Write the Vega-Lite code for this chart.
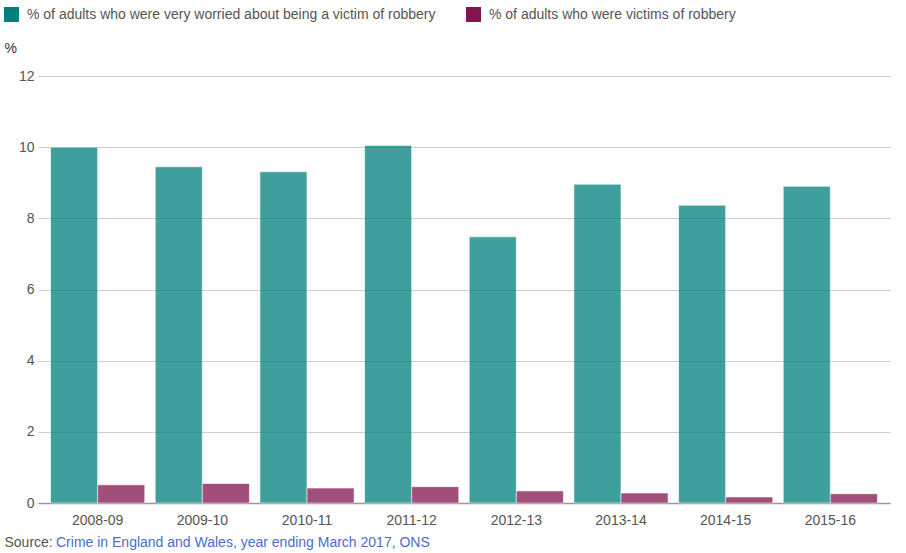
{
  "$schema": "https://vega.github.io/schema/vega-lite/v6.json",
  "width": 852,
  "height": 427,
  "autosize": "none",
  "padding": {"left": 38, "top": 76, "right": 16, "bottom": 50},
  "background": "white",
  "config": {
    "view": {"stroke": null},
    "font": "Liberation Sans"
  },
  "title": {
    "text": "Crime in England and Wales, year ending March 2017, ONS",
    "orient": "bottom",
    "anchor": "start",
    "frame": "group",
    "dx": 18,
    "dy": -16,
    "offset": 3,
    "font": "Liberation Sans",
    "fontSize": 14,
    "fontWeight": "normal",
    "color": "#4c6ccf"
  },
  "data": {
    "values": [
      {"year": "2008-09", "series": "% of adults who were very worried about being a victim of robbery", "value": 10.0},
      {"year": "2009-10", "series": "% of adults who were very worried about being a victim of robbery", "value": 9.45},
      {"year": "2010-11", "series": "% of adults who were very worried about being a victim of robbery", "value": 9.31},
      {"year": "2011-12", "series": "% of adults who were very worried about being a victim of robbery", "value": 10.05},
      {"year": "2012-13", "series": "% of adults who were very worried about being a victim of robbery", "value": 7.48},
      {"year": "2013-14", "series": "% of adults who were very worried about being a victim of robbery", "value": 8.96},
      {"year": "2014-15", "series": "% of adults who were very worried about being a victim of robbery", "value": 8.37},
      {"year": "2015-16", "series": "% of adults who were very worried about being a victim of robbery", "value": 8.9},
      {"year": "2008-09", "series": "% of adults who were victims of robbery", "value": 0.51},
      {"year": "2009-10", "series": "% of adults who were victims of robbery", "value": 0.55},
      {"year": "2010-11", "series": "% of adults who were victims of robbery", "value": 0.42},
      {"year": "2011-12", "series": "% of adults who were victims of robbery", "value": 0.46},
      {"year": "2012-13", "series": "% of adults who were victims of robbery", "value": 0.34},
      {"year": "2013-14", "series": "% of adults who were victims of robbery", "value": 0.28},
      {"year": "2014-15", "series": "% of adults who were victims of robbery", "value": 0.17},
      {"year": "2015-16", "series": "% of adults who were victims of robbery", "value": 0.26}
    ]
  },
  "mark": {"type": "bar", "opacity": 0.75, "stroke": "white", "strokeWidth": 1, "strokeOpacity": 0.6},
  "encoding": {
    "x": {
      "field": "year",
      "type": "nominal",
      "sort": null,
      "scale": {"paddingInner": 0.1, "paddingOuter": 0.12},
      "axis": {
        "title": "Source:",
        "titleX": -34,
        "titleY": 43,
        "titleAlign": "left",
        "titleBaseline": "alphabetic",
        "titleFont": "Liberation Sans",
        "titleFontSize": 14,
        "titleFontWeight": "normal",
        "titleColor": "#555555",
        "labelAngle": 0,
        "labelFont": "Liberation Sans",
        "labelFontSize": 14,
        "labelColor": "#555555",
        "labelPadding": 10,
        "ticks": false,
        "domainColor": "#999999",
        "domainWidth": 1.5
      }
    },
    "xOffset": {
      "field": "series",
      "type": "nominal",
      "sort": ["% of adults who were very worried about being a victim of robbery", "% of adults who were victims of robbery"]
    },
    "y": {
      "field": "value",
      "type": "quantitative",
      "scale": {"domain": [0, 12]},
      "axis": {
        "values": [0, 2, 4, 6, 8, 10, 12],
        "title": "%",
        "titleAngle": 0,
        "titleX": -34,
        "titleY": -24,
        "titleAlign": "left",
        "titleBaseline": "alphabetic",
        "titleFont": "Liberation Sans",
        "titleFontSize": 14,
        "titleFontWeight": "normal",
        "titleColor": "#333333",
        "labelFont": "Liberation Sans",
        "labelFontSize": 14,
        "labelColor": "#555555",
        "labelPadding": 4,
        "ticks": false,
        "domain": false,
        "gridColor": "#cccccc",
        "gridWidth": 1
      }
    },
    "color": {
      "field": "series",
      "type": "nominal",
      "sort": ["% of adults who were very worried about being a victim of robbery", "% of adults who were victims of robbery"],
      "scale": {"range": ["#00807c", "#841450"]},
      "legend": {
        "title": null,
        "orient": "none",
        "direction": "horizontal",
        "legendX": -34,
        "legendY": -69,
        "symbolType": "square",
        "symbolSize": 225,
        "symbolOpacity": 1,
        "symbolStrokeWidth": 0,
        "labelFont": "Liberation Sans",
        "labelFontSize": 14,
        "labelColor": "#555555",
        "labelLimit": 600,
        "labelOffset": 8,
        "columnPadding": 30
      }
    }
  }
}
